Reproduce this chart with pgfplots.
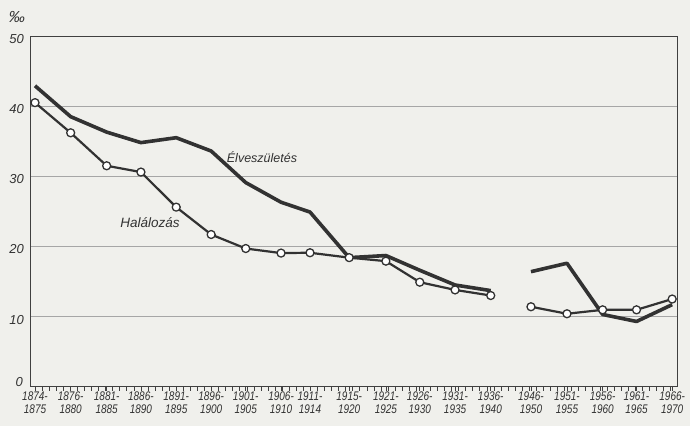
\documentclass[border=0pt]{standalone}
\usepackage{fontspec}
\setmainfont{Liberation Sans}
\newfontfamily\xfont[FakeStretch=0.8]{Liberation Sans}
\usepackage{pgfplots}
\pgfplotsset{compat=1.18}
\usepackage{pgfplotstable}
\definecolor{paper}{RGB}{240,240,236}
\definecolor{ink}{RGB}{50,50,50}

\pgfplotstableread{
x y
0 42.9
1.01 38.5
2.03 36.3
3.0 34.8
4.0 35.5
4.99 33.6
5.97 29.1
6.97 26.3
7.79 24.9
8.9 18.4
9.94 18.7
10.9 16.6
11.9 14.5
12.91 13.7
}\birthA
\pgfplotstableread{
x y
14.05 16.4
15.07 17.6
16.08 10.3
17.04 9.3
18.05 11.7
}\birthB
\pgfplotstableread{
x y
0 40.5
1.01 36.2
2.03 31.5
3.0 30.6
4.0 25.6
4.99 21.7
5.97 19.7
6.97 19.05
7.79 19.1
8.9 18.4
9.94 17.9
10.9 14.9
11.9 13.8
12.91 13.0
}\deathA
\pgfplotstableread{
x y
14.05 11.4
15.07 10.4
16.08 10.96
17.04 10.96
18.05 12.5
}\deathB

\begin{document}
\begin{tikzpicture}
\path[use as bounding box, fill=paper] (-30pt,-39.3pt) rectangle (660pt,386.7pt);
\begin{axis}[
  scale only axis,
  width=647pt, height=350.7pt,
  xmin=-0.142, xmax=18.187,
  ymin=0, ymax=50,
  ytick={0,10,20,30,40,50},
  yticklabels={,10,20,30,40,50},
  ymajorgrids,
  grid style={gray!70, line width=0.5pt},
  axis line style={black!75, line width=0.7pt},
  xtick={0,1.01,2.03,3.0,4.0,4.99,5.97,6.97,7.79,8.9,9.94,10.9,11.9,12.91,14.05,15.07,16.08,17.04,18.05},
  xticklabels={{1874-\\1875},{1876-\\1880},{1881-\\1885},{1886-\\1890},{1891-\\1895},{1896-\\1900},{1901-\\1905},{1906-\\1910},{1911-\\1914},{1915-\\1920},{1921-\\1925},{1926-\\1930},{1931-\\1935},{1936-\\1940},{1946-\\1950},{1951-\\1955},{1956-\\1960},{1961-\\1965},{1966-\\1970}},
  minor xtick={0,0.2,...,18.1},
  tick pos=left,
  tick align=outside,
  major tick length=4pt,
  minor tick length=4pt,
  every tick/.style={black!75, line width=0.6pt},
  ytick style={draw=none},
  /pgf/number format/assume math mode=true,
  xticklabel style={font=\xfont\itshape\fontsize{12.5}{13}\selectfont, align=center, text=ink, inner sep=1pt},
  yticklabel style={font=\itshape\fontsize{13}{13}\selectfont, text=ink, yshift=-3pt, inner sep=2pt},
  clip=false,
]
\addplot[ink, line width=3.6pt, line join=round] table[x=x,y=y] {\birthA};
\addplot[ink, line width=3.6pt, line join=round] table[x=x,y=y] {\birthB};
\addplot[ink, line width=2.2pt, line join=round, mark=*, mark size=4pt,
  mark options={fill=white, draw=ink, line width=1.3pt}] table[x=x,y=y] {\deathA};
\addplot[ink, line width=2.2pt, line join=round, mark=*, mark size=4pt,
  mark options={fill=white, draw=ink, line width=1.3pt}] table[x=x,y=y] {\deathB};
\node[font=\itshape\fontsize{12.5}{13}\selectfont, text=ink] at (axis cs:6.43,32.8) {Élveszületés};
\node[font=\itshape\fontsize{13.5}{14}\selectfont, text=ink] at (axis cs:3.26,23.4) {Halálozás};
\node[font=\itshape\fontsize{16}{16}\selectfont, text=ink] at ([xshift=-13pt,yshift=19pt]rel axis cs:0,1) {‰};
\node[font=\itshape\fontsize{13}{13}\selectfont, text=ink, anchor=east, inner sep=2pt] at ([xshift=-5pt,yshift=5pt]rel axis cs:0,0) {0};
\end{axis}
\end{tikzpicture}
\end{document}
